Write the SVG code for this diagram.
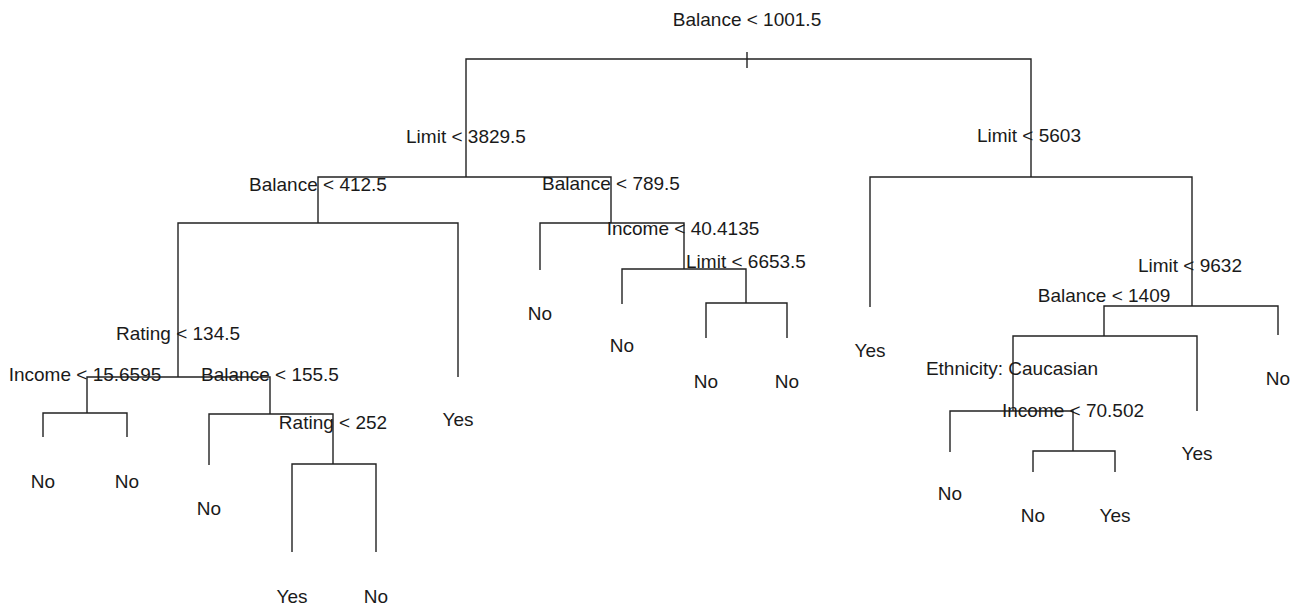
<svg xmlns="http://www.w3.org/2000/svg" width="1300" height="607" viewBox="0 0 1300 607">
<style>
text{font-family:"Liberation Sans",Arial,sans-serif;font-size:19px;fill:#1a1a1a;text-anchor:middle}
.e{fill:none;stroke:#222;stroke-width:1.4}
</style>
<rect width="1300" height="607" fill="#fff"/>
<g id="connectors">
<path class="e" d="M747,52V68"/>
<path class="e" d="M466,177V59H1031V177"/>
<path class="e" d="M178,377V223H458V377"/>
<path class="e" d="M318,223V177H611V223"/>
<path class="e" d="M540,270V223H684V269"/>
<path class="e" d="M622,304V269H746V303"/>
<path class="e" d="M706,338V303H787V338"/>
<path class="e" d="M87,413V377H270V414"/>
<path class="e" d="M43,437V413H127V437"/>
<path class="e" d="M209,465V414H333V464"/>
<path class="e" d="M292,552V464H376V552"/>
<path class="e" d="M870,307V177H1192V306"/>
<path class="e" d="M1104,336V306H1278V335"/>
<path class="e" d="M1013,411V336H1197V411"/>
<path class="e" d="M950,452V411H1073V451"/>
<path class="e" d="M1033,472V451H1115V472"/>
</g>
<g id="n-root"><text x="747" y="26">Balance &lt; 1001.5</text></g>
<g id="n-limit3829"><text x="466" y="143">Limit &lt; 3829.5</text></g>
<g id="n-balance412"><text x="318" y="191">Balance &lt; 412.5</text></g>
<g id="n-balance789"><text x="611" y="190">Balance &lt; 789.5</text></g>
<g id="n-rating134"><text x="178" y="340">Rating &lt; 134.5</text></g>
<g id="n-yes-a"><text x="458" y="426">Yes</text></g>
<g id="n-income15"><text x="85" y="381">Income &lt; 15.6595</text></g>
<g id="n-balance155"><text x="270" y="381">Balance &lt; 155.5</text></g>
<g id="n-no-a"><text x="43" y="488">No</text></g>
<g id="n-no-b"><text x="127" y="488">No</text></g>
<g id="n-no-c"><text x="209" y="515">No</text></g>
<g id="n-rating252"><text x="333" y="429">Rating &lt; 252</text></g>
<g id="n-yes-b"><text x="292" y="603">Yes</text></g>
<g id="n-no-d"><text x="376" y="603">No</text></g>
<g id="n-no-e"><text x="540" y="320">No</text></g>
<g id="n-income40"><text x="683" y="235">Income &lt; 40.4135</text></g>
<g id="n-no-f"><text x="622" y="352">No</text></g>
<g id="n-limit6653"><text x="746" y="268">Limit &lt; 6653.5</text></g>
<g id="n-no-g"><text x="706" y="388">No</text></g>
<g id="n-no-h"><text x="787" y="388">No</text></g>
<g id="n-limit5603"><text x="1029" y="142">Limit &lt; 5603</text></g>
<g id="n-yes-c"><text x="870" y="357">Yes</text></g>
<g id="n-limit9632"><text x="1190" y="272">Limit &lt; 9632</text></g>
<g id="n-balance1409"><text x="1104" y="302">Balance &lt; 1409</text></g>
<g id="n-no-i"><text x="1278" y="385">No</text></g>
<g id="n-ethnicity"><text x="1012" y="375">Ethnicity: Caucasian</text></g>
<g id="n-yes-d"><text x="1197" y="460">Yes</text></g>
<g id="n-income70"><text x="1073" y="417">Income &lt; 70.502</text></g>
<g id="n-no-j"><text x="950" y="500">No</text></g>
<g id="n-no-k"><text x="1033" y="522">No</text></g>
<g id="n-yes-e"><text x="1115" y="522">Yes</text></g>
</svg>
